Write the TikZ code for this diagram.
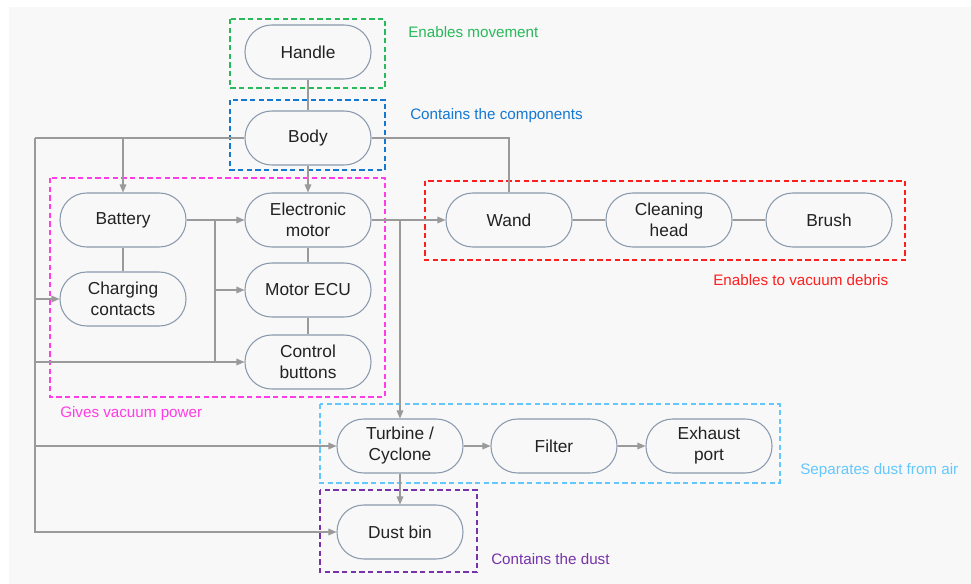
\documentclass[tikz,border=0pt]{standalone}
\usepackage{fontspec}
\setmainfont{Liberation Sans}
\usetikzlibrary{arrows.meta}
\definecolor{bgc}{HTML}{F8F8F8}
\definecolor{nodeb}{HTML}{8A9AAE}
\definecolor{linec}{HTML}{9A9A9A}
\definecolor{txt}{HTML}{222222}
\definecolor{cgreen}{RGB}{40,185,90}
\definecolor{cblue}{RGB}{20,120,210}
\definecolor{cmag}{RGB}{255,60,230}
\definecolor{cred}{RGB}{255,30,30}
\definecolor{clblue}{RGB}{100,200,255}
\definecolor{cpurp}{RGB}{120,50,170}
\tikzset{
  comp/.style={draw=nodeb, fill=bgc, line width=0.8pt, rounded corners=20pt,
    minimum width=94.5pt, minimum height=40.5pt, align=center, text=txt,
    font=\fontsize{13pt}{15.75pt}\selectfont, inner sep=0pt},
  conn/.style={draw=linec, line width=0.8pt},
  arr/.style={conn, -{Triangle[length=6pt,width=5pt]}},
  grp/.style={dashed, dash pattern=on 4pt off 2.5pt, line width=1.1pt},
  lbl/.style={anchor=west, font=\fontsize{11.4pt}{13pt}\selectfont, inner sep=0pt}
}
\begin{document}
\begin{tikzpicture}[x=0.75pt, y=-0.75pt]
\useasboundingbox (0,0) rectangle (971,584);
\fill[white] (0,0) rectangle (971,584);
\fill[bgc] (9,7) rectangle (971,584);

% group boxes
\draw[grp, draw=cgreen] (230,19) rectangle (385,88);
\draw[grp, draw=cblue] (230,100) rectangle (385,170);
\draw[grp, draw=cmag] (50,178) rectangle (385,397);
\draw[grp, draw=cred] (425,181) rectangle (905,260);
\draw[grp, draw=clblue] (320,404) rectangle (780,483);
\draw[grp, draw=cpurp] (320,490) rectangle (477,572);

% labels
\node[lbl, text=cgreen] (lg) at (408,32) {Enables movement};
\node[lbl, text=cblue] (lb) at (410,116) {Contains the components};
\node[lbl, text=cmag] (lm) at (60,414) {Gives vacuum power};
\node[lbl, text=cred] (lr) at (713,280) {Enables to vacuum debris};
\node[lbl, text=clblue] (ll) at (800,471) {Separates dust from air};
\node[lbl, text=cpurp] (lp) at (491,559) {Contains the dust};

% components
\node[comp] (handle) at (308,52) {Handle};
\node[comp] (body) at (308,138) {Body};
\node[comp] (battery) at (123,220) {Battery};
\node[comp] (motor) at (308,220) {Electronic\\motor};
\node[comp] (charging) at (123,299) {Charging\\contacts};
\node[comp] (ecu) at (308,290) {Motor ECU};
\node[comp] (buttons) at (308,362) {Control\\buttons};
\node[comp] (wand) at (509,220) {Wand};
\node[comp] (head) at (669,220) {Cleaning\\head};
\node[comp] (brush) at (829,220) {Brush};
\node[comp] (turbine) at (400,446) {Turbine /\\Cyclone};
\node[comp] (filter) at (554,446) {Filter};
\node[comp] (exhaust) at (709,446) {Exhaust\\port};
\node[comp] (bin) at (400,532) {Dust bin};

% junction coordinates
\coordinate (L1) at (35,138);
\coordinate (J2) at (215,220);
\coordinate (J3) at (400,220);

% connectors
\draw[conn] (handle) -- (body);
\draw[conn] (body.west) -- (L1);
\draw[arr] (L1) |- (bin.west);
\draw[arr] (L1 |- charging.west) -- (charging.west);
\draw[arr] (L1 |- buttons.west) -- (buttons.west);
\draw[arr] (L1 |- turbine.west) -- (turbine.west);
\draw[arr] (battery.north |- body.west) -- (battery.north);
\draw[arr] (body.south) -- (motor.north);
\draw[conn] (body.east) -| (wand.north);
\draw[arr] (battery.east) -- (motor.west);
\draw[conn] (J2) -- (J2 |- buttons.west);
\draw[arr] (J2 |- ecu.west) -- (ecu.west);
\draw[conn] (battery) -- (charging);
\draw[conn] (motor) -- (ecu);
\draw[conn] (ecu) -- (buttons);
\draw[arr] (motor.east) -- (wand.west);
\draw[arr] (J3) -- (turbine.north);
\draw[conn] (wand) -- (head);
\draw[conn] (head) -- (brush);
\draw[arr] (turbine) -- (filter);
\draw[arr] (filter) -- (exhaust);
\draw[arr] (turbine) -- (bin);
\end{tikzpicture}
\end{document}
